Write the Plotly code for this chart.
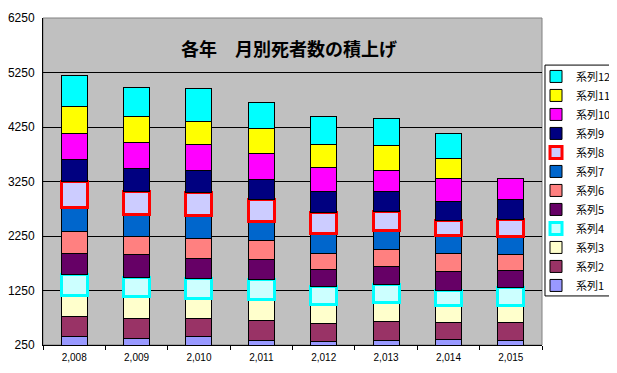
import plotly.graph_objects as go

years = ["2,008", "2,009", "2,010", "2,011", "2,012", "2,013", "2,014", "2,015"]
series_names = ["系列1", "系列2", "系列3", "系列4", "系列5", "系列6",
                "系列7", "系列8", "系列9", "系列10", "系列11", "系列12"]

s1 = [397, 371, 397, 334, 323, 334, 353, 334]
s2 = [372, 374, 348, 362, 323, 356, 301, 320]
s3 = [386, 386, 367, 385, 344, 336, 312, 317]
s4 = [385, 354, 360, 380, 335, 336, 293, 325]
s5 = [398, 417, 374, 354, 312, 330, 342, 317]
s6 = [386, 341, 360, 349, 301, 312, 319, 294]
s7 = [446, 398, 417, 354, 354, 349, 336, 343]
s8 = [471, 428, 427, 404, 391, 349, 275, 305]
s9 = [404, 411, 411, 367, 380, 367, 354, 356]
s10 = [488, 482, 477, 477, 435, 385, 417, 385]
s11 = [495, 472, 415, 448, 440, 448, 372, None]
s12 = [569, 550, 595, 482, 496, 495, 448, None]

values = [s1, s2, s3, s4, s5, s6, s7, s8, s9, s10, s11, s12]
fills = ["#9999FF", "#993366", "#FFFFCC", "#CCFFFF", "#660066", "#FF8080",
         "#0066CC", "#CCCCFF", "#000080", "#FF00FF", "#FFFF00", "#00FFFF"]
edges = ["#000000"] * 12
edges[3] = "#00FFFF"
edges[7] = "#FF0000"
edge_w = [1] * 12
edge_w[3] = 3
edge_w[7] = 3

fig = go.Figure()
for name, vals, fc, ec, ew in zip(series_names, values, fills, edges, edge_w):
    fig.add_trace(go.Bar(
        x=years, y=vals, name=name,
        marker=dict(color=fc, line=dict(color=ec, width=ew)),
    ))

fig.update_layout(
    width=609, height=357,
    barmode="stack", bargap=0.584,
    paper_bgcolor="white", plot_bgcolor="#C0C0C0",
    margin=dict(l=35, r=75, t=10, b=20, autoexpand=False),
    font=dict(family="Liberation Sans, Arial, sans-serif", color="black"),
    showlegend=True,
    legend=dict(
        traceorder="reversed",
        x=0.988, xanchor="left", y=0.8656, yanchor="top",
        bgcolor="rgba(0,0,0,0)", borderwidth=0,
        font=dict(family="Noto Sans CJK JP, sans-serif", size=11, color="black"),
        tracegroupgap=0, itemwidth=30,
    ),
    annotations=[dict(
        text="<b>各年　月別死者数の積上げ</b>",
        xref="paper", yref="paper", x=0.492, y=0.908,
        xanchor="center", yanchor="middle", showarrow=False,
        font=dict(family="Noto Sans CJK JP, sans-serif", size=18, color="black"),
    )],
    shapes=[
        dict(type="rect", xref="paper", yref="paper", x0=0, y0=0, x1=1, y1=1,
             line=dict(color="#808080", width=1), layer="below"),
        dict(type="rect", xref="paper", yref="paper", x0=1.006, y0=0.15,
             x1=1.1423, y1=0.856, line=dict(color="black", width=1),
             fillcolor="white", layer="below"),
    ],
)

fig.update_xaxes(
    type="category", showgrid=False, showline=True, linecolor="black", linewidth=1,
    ticks="outside", tickson="boundaries", ticklen=4, tickcolor="black",
    tickfont=dict(size=10, color="black"), automargin=False, ticklabelstandoff=3,
)
fig.update_yaxes(
    range=[250, 6250], tick0=250, dtick=1000,
    showgrid=True, gridcolor="black", gridwidth=1, zeroline=False,
    showline=True, linecolor="black", linewidth=1,
    ticks="", tickfont=dict(size=12, color="black"), automargin=False,
    ticklabelstandoff=5,
)

fig.write_html("out.html")
